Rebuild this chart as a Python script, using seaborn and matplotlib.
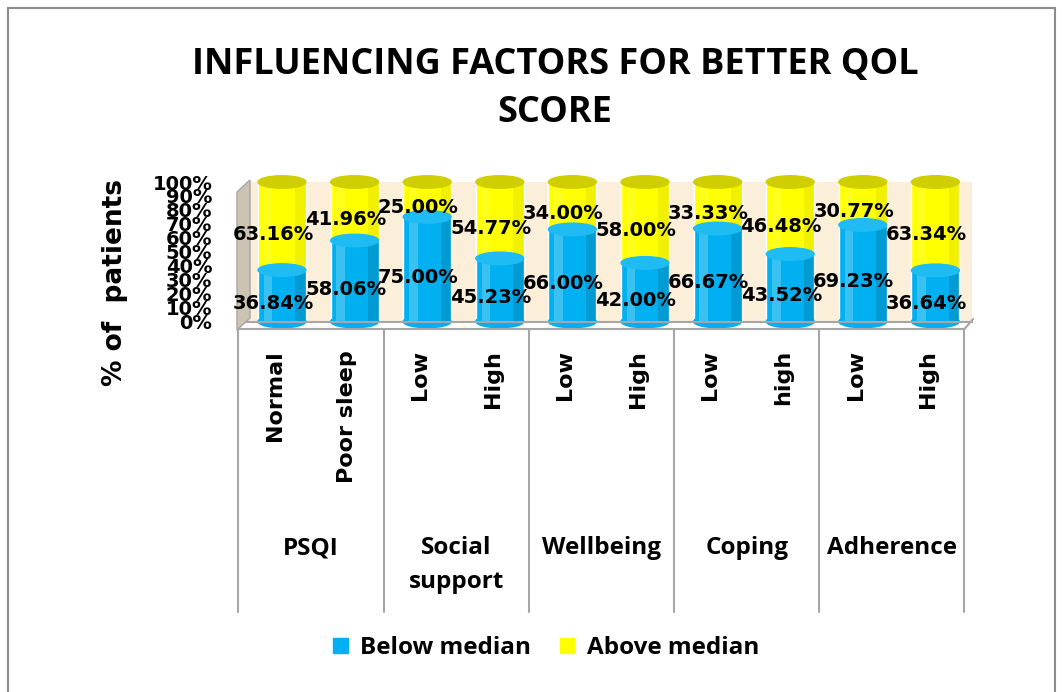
import numpy as np
import pandas as pd
import matplotlib
matplotlib.use("Agg")
import matplotlib.pyplot as plt
import matplotlib.transforms as mtransforms
from matplotlib.patches import Ellipse, Patch, Rectangle, Polygon
import seaborn as sns

# ---- data ----
groups = ["PSQI", "Social\nsupport", "Wellbeing", "Coping", "Adherence"]
levels = ["Normal", "Poor sleep", "Low", "High", "Low", "High", "Low", "high", "Low", "High"]
below = [36.84, 58.06, 75.00, 45.23, 66.00, 42.00, 66.67, 43.52, 69.23, 36.64]
above = [63.16, 41.96, 25.00, 54.77, 34.00, 58.00, 33.33, 46.48, 30.77, 63.34]
series = ["Below median", "Above median"]

BLUE = "#00B0F0"
YELLOW = "#FFFF00"

keys = [f"{g}|{l}|{i}" for i, (g, l) in enumerate(zip(np.repeat(groups, 2), levels))]
df = pd.DataFrame({"key": keys, "below": below, "above": above})
# 100% stacked: each column is scaled to its own total
tot = df["below"] + df["above"]
df["below_pct"] = df["below"] / tot * 100
df["total_pct"] = 100.0

sns.set_style("white")
plt.rcParams["font.family"] = ["DejaVu Sans"]
plt.rcParams.update({"text.color": "black", "axes.labelcolor": "black",
                     "xtick.color": "black", "ytick.color": "black"})
CAL = "Open Sans"

W, H = 1063, 692
fig = plt.figure(figsize=(W / 100, H / 100), dpi=100)
fig.patch.set_facecolor("white")

# outer chart border
fig.add_artist(Rectangle((8 / W, -0.02), 1047 / W, 1 - 8 / H + 0.02, transform=fig.transFigure,
                         fill=False, edgecolor="#8C8C8C", linewidth=1.5))

ax = fig.add_axes([245.7 / W, (H - 321.5) / H, 726 / W, 139.5 / H])
ax.set_facecolor("#FBEFD9")

# 3d side wall (drawn in figure pixels, behind the bars)
ax.add_patch(Polygon([(237 / W, 1 - 192 / H), (250 / W, 1 - 180 / H), (250 / W, 1 - 318 / H),
                      (237 / W, 1 - 330 / H)], closed=True, transform=fig.transFigure,
                     facecolor="#CDC3B3", edgecolor="#A6A6A6", lw=1, zorder=0.5, clip_on=False))

bw = 0.66
sns.barplot(data=df, x="key", y="total_pct", order=keys, color=YELLOW, saturation=1, width=bw, ax=ax)
sns.barplot(data=df, x="key", y="below_pct", order=keys, color=BLUE, saturation=1, width=bw, ax=ax)
bars = [p for p in ax.patches if isinstance(p, Rectangle)]

# cylinder caps
eh = 9
for i, b in enumerate(df["below_pct"]):
    ax.add_patch(Ellipse((i, 0), bw, eh, color=BLUE, clip_on=False, zorder=2))
    ax.add_patch(Ellipse((i, b), bw, eh, color="#1EBCF2", clip_on=False, zorder=3))
    ax.add_patch(Ellipse((i, 100), bw, eh, color="#CFCF00", clip_on=False, zorder=3))

# simple shading for a rounded look
for p in bars:
    x0, y0 = p.get_x(), p.get_y()
    w, h = p.get_width(), p.get_height()
    ax.add_patch(Rectangle((x0 + w * 0.12, y0), w * 0.18, h, color="white", alpha=0.12,
                           linewidth=0, zorder=2.5))
    ax.add_patch(Rectangle((x0 + w * 0.78, y0), w * 0.22, h, color="black", alpha=0.06,
                           linewidth=0, zorder=2.5))

# data labels
for i, (b, a, bp) in enumerate(zip(below, above, df["below_pct"])):
    ax.annotate(f"{b:.2f}%", (i, bp / 2), xytext=(-9, -8), textcoords="offset pixels",
                ha="center", va="center", fontsize=14, fontweight="bold", zorder=5,
                annotation_clip=False)
    ax.annotate(f"{a:.2f}%", (i, bp + (100 - bp) / 2), xytext=(-9, -8), textcoords="offset pixels",
                ha="center", va="center", fontsize=14, fontweight="bold", zorder=5,
                annotation_clip=False)

ax.set_xlim(-0.5, len(keys) - 0.5)
ax.set_ylim(0, 100)
ax.set_yticks(range(0, 101, 10))
ax.set_yticklabels([f"{v}%" for v in range(0, 101, 10)], fontsize=14, fontweight="bold")
shift = mtransforms.ScaledTranslation(0, -10 / 100, fig.dpi_scale_trans)
for lab in ax.get_yticklabels():
    lab.set_transform(lab.get_transform() + shift)
ax.tick_params(axis="y", length=0, pad=24)
ax.set_xticks([])
ax.set_xlabel("")
ax.set_ylabel("")
for s in ["top", "right", "left"]:
    ax.spines[s].set_visible(False)
ax.spines["bottom"].set_color("#A6A6A6")
ax.spines["bottom"].set_linewidth(1.5)

# category axis (two-level)
bt = mtransforms.blended_transform_factory(ax.transData, fig.transFigure)
ytop, ybot = 1 - 329 / H, 1 - 612 / H
ax.plot([-0.6, 9.4, 9.52], [ytop, ytop, 1 - 319 / H], transform=bt, color="#A6A6A6", lw=1.5,
        clip_on=False)
for k in range(6):
    xs = 2 * k - 0.6
    ax.plot([xs, xs], [ytop, ybot], transform=bt, color="#A6A6A6", lw=1.5, clip_on=False)
for i, lv in enumerate(levels):
    ax.text(i - 0.1, 1 - 350 / H, lv, transform=bt, rotation=90, ha="center", va="top",
            fontsize=16, fontweight="bold")
for g, name in enumerate(groups):
    ax.text(2 * g + 0.4, 1 - 536 / H, name, transform=bt, ha="center", va="top",
            fontsize=17.5, fontweight="bold", family=CAL, linespacing=1.55)

# title, axis label, legend
fig.text(555 / W, 1 - 89 / H, "INFLUENCING FACTORS FOR BETTER QOL\nSCORE", ha="center", va="center",
         fontsize=26, fontweight="bold", family=CAL, linespacing=1.45)
fig.text(115 / W, 1 - 282 / H, "% of  patients", rotation=90, ha="center", va="center",
         fontsize=19, fontweight="bold")
handles = [Patch(color=BLUE), Patch(color=YELLOW)]
fig.legend(handles, series, loc="center", bbox_to_anchor=(546 / W, 1 - 648 / H), ncol=2,
           frameon=False, handlelength=0.6, handleheight=0.6, handletextpad=0.5, columnspacing=1.2,
           prop={"family": CAL, "weight": "bold", "size": 17.5})

fig.savefig("out.png", dpi=100, facecolor="white")
